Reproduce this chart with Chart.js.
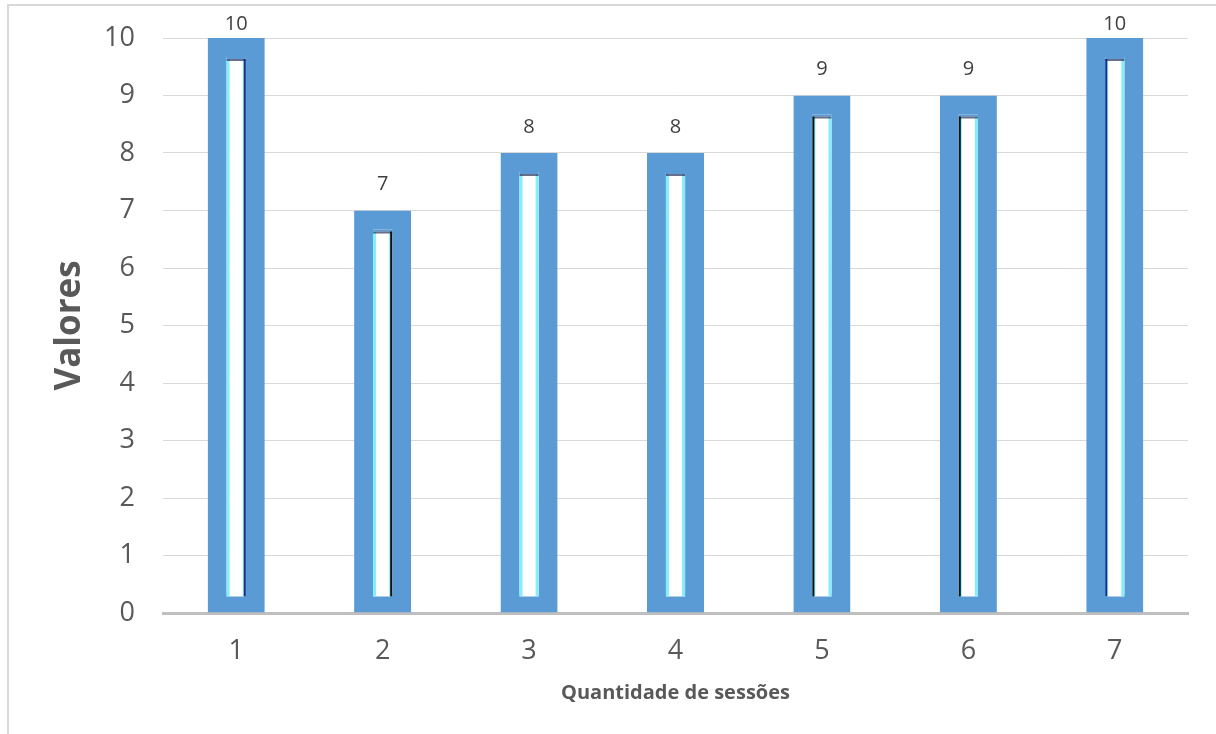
<!DOCTYPE html>
<html>
<head>
<meta charset="utf-8">
<script src="https://cdn.jsdelivr.net/npm/chart.js@4/dist/chart.umd.min.js"></script>
<style>
  html, body { margin: 0; padding: 0; background: #fff; }
  #wrap { width: 1216px; height: 734px; position: relative; }
</style>
</head>
<body>
<div id="wrap"><canvas id="chart" width="1216" height="734"></canvas></div>
<script>
"use strict";

// chart values
var sessoes = ["1", "2", "3", "4", "5", "6", "7"];
var valores = [10, 7, 8, 8, 9, 9, 10];
var yTicks = [0, 1, 2, 3, 4, 5, 6, 7, 8, 9, 10];

// styling of the inner stripe of each bar
var stripeSide = ["right", "right", null, null, "left", "left", "left"];
var stripeColor = ["#1c2a8c", "#111111", null, null, "#111111", "#111111", "#1c2a8c"];

var blue = "#5b9bd5";
var font = "'Open Sans', 'DejaVu Sans', sans-serif";

// frame around the chart (left + top edge visible)
var framePlugin = {
    id: "frame",
    beforeDraw: function(chart){
        var ctx = chart.ctx;
        ctx.save();
        ctx.strokeStyle = "#d9d9d9";
        ctx.lineWidth = 2;
        ctx.beginPath();
        ctx.moveTo(8, 734);
        ctx.lineTo(8, 5);
        ctx.lineTo(1216, 5);
        ctx.stroke();
        ctx.restore();
    }
};

// white core with cyan edges + dark line, and value labels
var barDecor = {
    id: "barDecor",
    afterDatasetsDraw: function(chart){
        var ctx = chart.ctx;
        var meta = chart.getDatasetMeta(0);
        var bw = chart.data.datasets[0].borderWidth;
        ctx.save();
        meta.data.forEach(function(bar, i){
            var p = bar.getProps(["x", "y", "base", "width"], true);
            var l = p.x - p.width / 2 + bw;
            var r = p.x + p.width / 2 - bw;
            var t = p.y + bw + 2;
            var b = p.base - bw + 3;

            ctx.fillStyle = "#ffffff";
            ctx.fillRect(l, t, r - l, b - t);

            ctx.fillStyle = "rgba(110,235,250,0.85)";
            ctx.fillRect(l, t, 3, b - t);
            ctx.fillRect(r - 3, t, 3, b - t);

            ctx.fillStyle = "rgba(40,50,90,0.7)";
            ctx.fillRect(l, t, r - l, 2);

            if (stripeSide[i]) {
                ctx.fillStyle = stripeColor[i];
                var sx = stripeSide[i] === "right" ? r - 2 : l;
                ctx.fillRect(sx, t, 2, b - t);
            }

            ctx.fillStyle = "#404040";
            ctx.font = "20px " + font;
            ctx.textAlign = "center";
            ctx.textBaseline = "middle";
            var ly = Math.max(p.y - 26, chart.chartArea.top - 13.5);
            ctx.fillText(String(valores[i]), p.x, ly);
        });
        ctx.restore();
    }
};

var ctx = document.getElementById("chart").getContext("2d");

var chart = new Chart(ctx, {
    type: "bar",
    data: {
        labels: sessoes,
        datasets: [
            {
                data: valores,
                backgroundColor: blue,
                borderColor: blue,
                borderWidth: 19,
                borderSkipped: false,
                barPercentage: 0.39,
                categoryPercentage: 1.0
            }
        ]
    },
    options: {
        responsive: false,
        animation: false,
        events: [],
        layout: { padding: { top: 38, right: 28, bottom: 0, left: 0 } },
        plugins: {
            legend: { display: false },
            tooltip: { enabled: false }
        },
        scales: {
            x: {
                z: 1,
                grid: { display: false, drawTicks: false },
                border: { display: true, color: "#bfbfbf", width: 3 },
                ticks: {
                    color: "#595959",
                    padding: 22,
                    font: { family: font, size: 27 }
                },
                title: {
                    display: true,
                    text: "Quantidade de sessões",
                    color: "#595959",
                    padding: { top: 0, bottom: 29 },
                    font: { family: font, size: 20, weight: "bold" }
                },
                afterFit: function(scale){ scale.height = 121; }
            },
            y: {
                min: 0,
                max: 10,
                afterBuildTicks: function(scale){
                    scale.ticks = yTicks.map(function(v){ return { value: v }; });
                },
                grid: { color: "#d9d9d9", lineWidth: 1, drawTicks: false },
                border: { display: false },
                ticks: {
                    color: "#595959",
                    padding: 28,
                    font: { family: font, size: 27 }
                },
                title: {
                    display: true,
                    text: "Valores",
                    color: "#595959",
                    padding: { top: 49, bottom: 0 },
                    font: { family: font, size: 35, weight: "bold" }
                },
                afterFit: function(scale){
                    scale.width = 163;
                    scale.paddingTop = 0;
                    scale.paddingBottom = 0;
                }
            }
        }
    },
    plugins: [framePlugin, barDecor]
});
</script>
</body>
</html>
